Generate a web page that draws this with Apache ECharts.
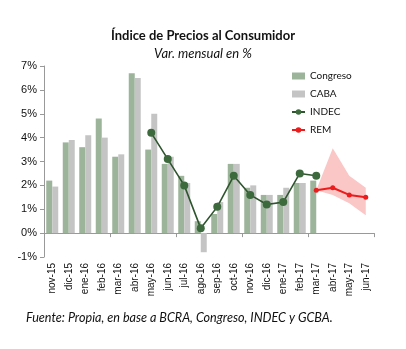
<!DOCTYPE html>
<html><head><meta charset="utf-8">
<script src="https://cdn.jsdelivr.net/npm/echarts@6/dist/echarts.min.js"></script>
<style>html,body{margin:0;padding:0;background:#fff}#c{width:406px;height:349px}</style>
</head><body><div id="c"></div>
<script>
const categories = ['nov-15','dic-15','ene-16','feb-16','mar-16','abr-16','may-16','jun-16','jul-16','ago-16','sep-16','oct-16','nov-16','dic-16','ene-17','feb-17','mar-17','abr-17','may-17','jun-17'];
const yTickValues = [-1,0,1,2,3,4,5,6,7];
const congreso = [2.2,3.8,3.6,4.8,3.2,6.7,3.5,2.9,2.4,0.5,0.8,2.9,1.9,1.6,1.6,2.1,2.2,null,null,null];
const caba = [1.95,3.9,4.1,4.0,3.3,6.5,5.0,3.2,2.1,-0.8,1.3,2.9,2.0,1.6,1.9,2.1,null,null,null,null];
const indec = [null,null,null,null,null,null,4.2,3.1,2.0,0.2,1.1,2.4,1.6,1.2,1.3,2.5,2.4,null,null,null];
const rem = [null,null,null,null,null,null,null,null,null,null,null,null,null,null,null,null,1.8,1.9,1.6,1.5];
const remUpper = [null,null,null,null,null,null,null,null,null,null,null,null,null,null,null,null,1.8,3.55,2.4,1.9];
const remLower = [null,null,null,null,null,null,null,null,null,null,null,null,null,null,null,null,1.8,1.6,1.25,0.75];

const bandWidth = remUpper.map((u,i)=> u==null ? null : +(u-remLower[i]).toFixed(3));
const font = 'Lato, "Liberation Sans", sans-serif';
const axisFont = '"Liberation Sans", Arial, sans-serif';

const chart = echarts.init(document.getElementById('c'), null, {renderer:'canvas'});
chart.setOption({
  animation:false,
  backgroundColor:'#fff',
  title:[
    {text:'Índice de Precios al Consumidor', left:'center', top:24, textStyle:{fontFamily:font, fontWeight:'bold', fontSize:13, color:'#111'}},
    {text:'Var. mensual en %', left:'center', top:42, textStyle:{fontFamily:font, fontStyle:'italic', fontWeight:'normal', fontSize:13, color:'#111'}},
    {text:'Fuente: Propia, en base a BCRA, Congreso, INDEC y GCBA.', left:21, top:306, textStyle:{fontFamily:font, fontStyle:'italic', fontWeight:'normal', fontSize:12.6, color:'#111'}}
  ],
  legend:{
    orient:'vertical', left:286, top:66, itemWidth:13, itemHeight:7, itemGap:8,
    textStyle:{fontFamily:font, fontSize:10, color:'#111'},
    data:[
      {name:'Congreso', icon:'rect'},
      {name:'CABA', icon:'rect'},
      {name:'INDEC'},
      {name:'REM'}
    ]
  },
  grid:{left:44, right:32, top:66, bottom:92},
  xAxis:[
    {type:'category', data:categories, position:'bottom',
     axisLine:{show:false, onZero:false}, axisTick:{show:false},
     axisLabel:{rotate:90, margin:6, fontFamily:axisFont, fontSize:10, color:'#111', interval:0}},
    {type:'category', data:categories, position:'bottom',
     axisLine:{show:true, onZero:true, lineStyle:{color:'#999', width:1}},
     axisTick:{show:true, length:4, lineStyle:{color:'#999'}},
     axisLabel:{show:false}}
  ],
  yAxis:{type:'value', min:yTickValues[0], max:yTickValues[yTickValues.length-1], interval:1,
    axisLine:{show:true, lineStyle:{color:'#999'}},
    axisTick:{show:true, length:4, lineStyle:{color:'#999'}},
    splitLine:{show:false},
    axisLabel:{formatter:'{value}%', fontFamily:axisFont, fontSize:11, color:'#111', margin:7}},
  series:[
    {name:'Congreso', type:'bar', data:congreso, barWidth:6, barGap:'0%', itemStyle:{color:'#9cb49a'}},
    {name:'CABA', type:'bar', data:caba, barWidth:6, barGap:'0%', itemStyle:{color:'#c4c4c4'}},
    {name:'bandLower', type:'line', data:remLower, stack:'band', symbol:'none', lineStyle:{opacity:0}, silent:true, z:1},
    {name:'bandWidth', type:'line', data:bandWidth, stack:'band', symbol:'none', lineStyle:{opacity:0}, areaStyle:{color:'#fbc6c6', opacity:1}, silent:true, z:1},
    {name:'INDEC', type:'line', data:indec, symbol:'circle', symbolSize:8, itemStyle:{color:'#3d6a3d'}, lineStyle:{color:'#2f552f', width:1.6}, z:5},
    {name:'REM', type:'line', data:rem, symbol:'circle', symbolSize:5, itemStyle:{color:'#ec1c1c'}, lineStyle:{color:'#ec1c1c', width:2}, z:5}
  ]
});
</script>
</body></html>
